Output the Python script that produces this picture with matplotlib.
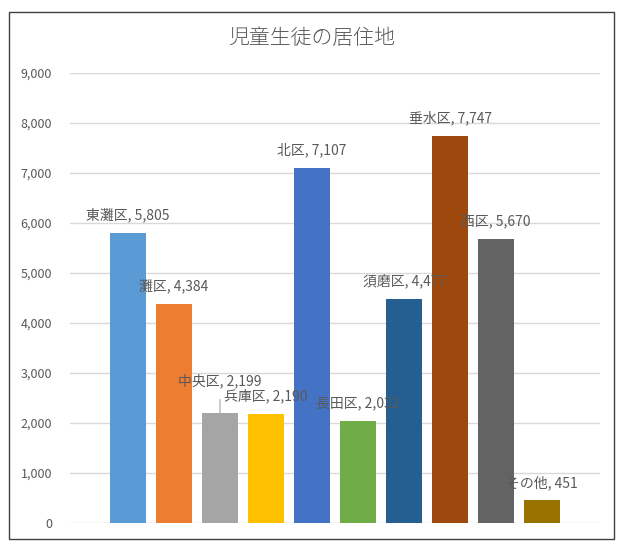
import matplotlib
matplotlib.use("Agg")
import matplotlib.pyplot as plt
import matplotlib.ticker as ticker
from matplotlib.patches import Rectangle

plt.rcParams['font.family'] = ['Noto Sans CJK JP', 'DejaVu Sans']

# Data
districts = ['東灘区', '灘区', '中央区', '兵庫区', '北区',
             '長田区', '須磨区', '垂水区', '西区', 'その他']
students = [5805, 4384, 2199, 2190, 7107, 2032, 4477, 7747, 5670, 451]
y_ticks = [0, 1000, 2000, 3000, 4000, 5000, 6000, 7000, 8000, 9000]

colors = ['#5B9BD5', '#ED7D31', '#A5A5A5', '#FFC000', '#4472C4',
          '#70AD47', '#255E91', '#9E480E', '#636363', '#997300']

W, H = 621, 551
fig = plt.figure(figsize=(W / 100, H / 100), dpi=100)

# outer chart frame
fig.patches.append(Rectangle((9 / W, 1 - 539 / H), 605 / W, 527 / H,
                             transform=fig.transFigure, fill=False,
                             edgecolor='#404040', linewidth=1.0))

ax = fig.add_axes([70 / W, 1 - 523 / H, 530 / W, 450 / H])
x = list(range(len(districts)))
ax.bar(x, students, width=0.8, color=colors, zorder=2)

ax.set_xlim(-1.26, len(districts) - 1 + 1.26)
ax.set_ylim(0, 9000)
ax.set_yticks(y_ticks)
ax.yaxis.set_major_formatter(ticker.StrMethodFormatter('{x:,.0f}'))
ax.set_xticks([])
for s in ax.spines.values():
    s.set_visible(False)
ax.tick_params(axis='y', length=0, labelsize=9, labelcolor='#595959', pad=13)
ax.grid(axis='y', color='#D9D9D9', linewidth=1.0, zorder=0)
ax.set_axisbelow(True)

# data labels (Excel style, 中央区 moved up with a leader line)
for i, (name, val) in enumerate(zip(districts, students)):
    dy = 32 if name == '中央区' else 18
    kw = {}
    if name == '中央区':
        kw['arrowprops'] = dict(arrowstyle='-', color='#A6A6A6', lw=0.8,
                                shrinkA=6, shrinkB=0)
    ax.annotate(f'{name}, {val:,}', xy=(i, val), xytext=(0, dy),
                textcoords='offset pixels', ha='center', va='center',
                fontsize=10, color='#595959', zorder=3, **kw)

fig.text(312 / W, 1 - 38 / H, '児童生徒の居住地', ha='center', va='center',
         fontsize=15, color='#595959', fontweight='light')

plt.savefig('out.png', dpi=100)
plt.close()
